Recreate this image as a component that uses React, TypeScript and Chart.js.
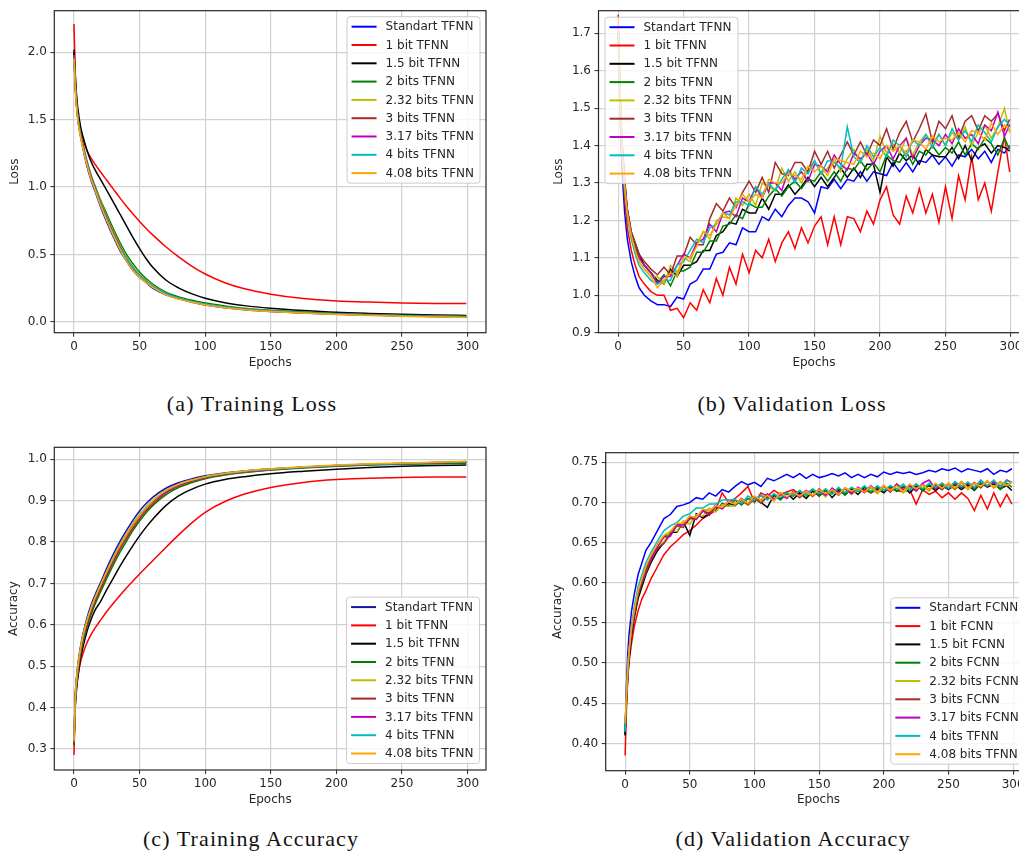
import React, { useEffect, useRef } from 'react';
import { Chart, registerables } from 'chart.js';
Chart.register(...registerables);

// ---------- shared categories / labels ----------
const trainEpochs = [0, 1, 2, 3, 5, 7, 10, 13, 16, 20, 25, 30, 35, 40, 45, 50, 55, 60, 70, 80, 90, 100, 115, 130, 150, 175, 200, 225, 250, 275, 299];
const valEpochs = [0, 1, 2, 3, 5, 7, 10, 13, 16, 20, 25, 30, 35, 40, 45, 50, 55, 60, 65, 70, 75, 80, 85, 90, 95, 100, 105, 110, 115, 120, 125, 130, 135, 140, 145, 150, 155, 160, 165, 170, 175, 180, 185, 190, 195, 200, 205, 210, 215, 220, 225, 230, 235, 240, 245, 250, 255, 260, 265, 270, 275, 280, 285, 290, 295, 299];

const namesTFNN = ['Standart TFNN', '1 bit TFNN', '1.5 bit TFNN', '2 bits TFNN', '2.32 bits TFNN', '3 bits TFNN', '3.17 bits TFNN', '4 bits TFNN', '4.08 bits TFNN'];
const namesValAcc = ['Standart FCNN', '1 bit FCNN', '1.5 bit FCNN', '2 bits FCNN', '2.32 bits FCNN', '3 bits FCNN', '3.17 bits FCNN', '4 bits TFNN', '4.08 bits TFNN'];

const paletteMain = ['#0000ff', '#ff0000', '#000000', '#008000', '#bfbf00', '#a52a2a', '#bf00bf', '#00bfbf', '#ffa500'];
const paletteTrainAcc = ['#1414a8', '#ff0000', '#000000', '#008000', '#bfbf00', '#a52a2a', '#bf00bf', '#00bfbf', '#ffa500'];

const xTickLabels = ['0', '50', '100', '150', '200', '250', '300'];
const yTickLabelsA = ['0.0', '0.5', '1.0', '1.5', '2.0'];
const yTickLabelsB = ['0.9', '1.0', '1.1', '1.2', '1.3', '1.4', '1.5', '1.6', '1.7'];
const yTickLabelsC = ['0.3', '0.4', '0.5', '0.6', '0.7', '0.8', '0.9', '1.0'];
const yTickLabelsD = ['0.40', '0.45', '0.50', '0.55', '0.60', '0.65', '0.70', '0.75'];

// ---------- (a) Training loss ----------
const tlStandart = [2.0, 1.75, 1.6, 1.5, 1.38, 1.28, 1.15, 1.05, 0.97, 0.86, 0.74, 0.63, 0.53, 0.45, 0.38, 0.33, 0.29, 0.25, 0.2, 0.17, 0.145, 0.125, 0.105, 0.09, 0.077, 0.065, 0.056, 0.05, 0.044, 0.04, 0.036];
const tl1bit = [2.21, 1.85, 1.65, 1.53, 1.42, 1.35, 1.27, 1.215, 1.17, 1.115, 1.05, 0.985, 0.92, 0.858, 0.8, 0.745, 0.693, 0.645, 0.557, 0.48, 0.412, 0.355, 0.29, 0.245, 0.205, 0.172, 0.155, 0.146, 0.14, 0.136, 0.135];
const tl15bit = [2.02, 1.82, 1.68, 1.58, 1.45, 1.37, 1.27, 1.19, 1.13, 1.06, 0.975, 0.888, 0.8, 0.712, 0.625, 0.543, 0.468, 0.405, 0.31, 0.25, 0.207, 0.175, 0.142, 0.12, 0.1, 0.083, 0.07, 0.062, 0.056, 0.051, 0.047];
const tl2bit = [1.98, 1.76, 1.62, 1.52, 1.4, 1.31, 1.19, 1.09, 1.01, 0.91, 0.8, 0.69, 0.59, 0.5, 0.43, 0.37, 0.32, 0.28, 0.22, 0.185, 0.16, 0.14, 0.118, 0.1, 0.085, 0.072, 0.062, 0.055, 0.049, 0.045, 0.041];
const tl232bit = [1.97, 1.75, 1.61, 1.51, 1.39, 1.3, 1.18, 1.08, 1.0, 0.9, 0.78, 0.67, 0.57, 0.48, 0.41, 0.35, 0.31, 0.27, 0.21, 0.175, 0.15, 0.13, 0.11, 0.095, 0.08, 0.068, 0.058, 0.051, 0.045, 0.041, 0.037];
const tl3bit = [1.98, 1.76, 1.61, 1.51, 1.39, 1.3, 1.18, 1.08, 1.0, 0.89, 0.77, 0.66, 0.56, 0.47, 0.4, 0.345, 0.3, 0.265, 0.21, 0.175, 0.15, 0.13, 0.11, 0.094, 0.08, 0.067, 0.058, 0.051, 0.045, 0.041, 0.037];
const tl317bit = [1.97, 1.75, 1.6, 1.5, 1.38, 1.29, 1.17, 1.07, 0.99, 0.88, 0.76, 0.65, 0.55, 0.46, 0.39, 0.34, 0.3, 0.26, 0.205, 0.17, 0.148, 0.128, 0.108, 0.093, 0.079, 0.066, 0.057, 0.05, 0.044, 0.04, 0.036];
const tl4bit = [1.96, 1.74, 1.6, 1.5, 1.38, 1.29, 1.17, 1.07, 0.99, 0.88, 0.76, 0.65, 0.55, 0.47, 0.4, 0.345, 0.3, 0.265, 0.21, 0.175, 0.15, 0.13, 0.11, 0.094, 0.08, 0.067, 0.057, 0.05, 0.044, 0.04, 0.035];
const tl408bit = [1.95, 1.73, 1.59, 1.49, 1.37, 1.28, 1.16, 1.06, 0.98, 0.87, 0.75, 0.64, 0.54, 0.45, 0.38, 0.33, 0.29, 0.255, 0.2, 0.168, 0.145, 0.125, 0.105, 0.09, 0.076, 0.063, 0.054, 0.047, 0.041, 0.036, 0.031];

// ---------- (b) Validation loss ----------
const vlStandart = [1.70, 1.55, 1.42, 1.33, 1.22, 1.15, 1.09, 1.05, 1.02, 1.0, 0.985,
  0.975, 0.975, 0.97, 0.995, 0.99, 1.03, 1.04, 1.07, 1.07, 1.11, 1.115,
  1.14, 1.135, 1.18, 1.17, 1.17, 1.21, 1.2, 1.23, 1.21, 1.24, 1.26,
  1.26, 1.25, 1.22, 1.29, 1.285, 1.31, 1.285, 1.31, 1.305, 1.33, 1.305,
  1.33, 1.325, 1.32, 1.355, 1.33, 1.355, 1.33, 1.36, 1.355, 1.375, 1.35,
  1.37, 1.345, 1.375, 1.37, 1.39, 1.365, 1.385, 1.355, 1.39, 1.38, 1.4];
const vl1bit = [1.75, 1.6, 1.47, 1.38, 1.26, 1.18, 1.12, 1.08, 1.05, 1.03, 1.01,
  1.0, 1.0, 0.96, 0.965, 0.94, 0.98, 0.96, 1.015, 0.98, 1.045, 1.0,
  1.075, 1.03, 1.11, 1.06, 1.12, 1.1, 1.15, 1.09, 1.14, 1.17, 1.125,
  1.18, 1.14, 1.185, 1.21, 1.135, 1.21, 1.135, 1.21, 1.205, 1.17, 1.225,
  1.19, 1.255, 1.29, 1.215, 1.19, 1.265, 1.22, 1.285, 1.22, 1.27, 1.195,
  1.29, 1.205, 1.32, 1.255, 1.37, 1.255, 1.3, 1.225, 1.33, 1.425, 1.33];
const vl15bit = [1.72, 1.6, 1.49, 1.41, 1.31, 1.23, 1.17, 1.14, 1.11, 1.08, 1.06,
  1.04, 1.03, 1.07, 1.05, 1.08, 1.08, 1.09, 1.12, 1.12, 1.16, 1.17,
  1.195, 1.19, 1.23, 1.22, 1.22, 1.26, 1.23, 1.27, 1.27, 1.295, 1.27,
  1.29, 1.315, 1.29, 1.315, 1.29, 1.315, 1.34, 1.315, 1.34, 1.315, 1.35,
  1.35, 1.275, 1.37, 1.345, 1.38, 1.36, 1.375, 1.35, 1.39, 1.375, 1.37,
  1.37, 1.395, 1.365, 1.4, 1.36, 1.395, 1.405, 1.38, 1.4, 1.395, 1.385];
const vl2bit = [1.72, 1.6, 1.48, 1.4, 1.3, 1.22, 1.16, 1.13, 1.1, 1.08, 1.06,
  1.035, 1.055, 1.025, 1.065, 1.065, 1.075, 1.115, 1.115, 1.145, 1.145, 1.185,
  1.19, 1.215, 1.205, 1.245, 1.235, 1.235, 1.265, 1.285, 1.265, 1.29, 1.305,
  1.285, 1.31, 1.305, 1.33, 1.305, 1.33, 1.305, 1.34, 1.335, 1.36, 1.335,
  1.355, 1.33, 1.375, 1.36, 1.355, 1.385, 1.35, 1.385, 1.375, 1.4, 1.375,
  1.395, 1.38, 1.41, 1.375, 1.405, 1.39, 1.42, 1.405, 1.375, 1.42, 1.39];
const vl232bit = [1.71, 1.59, 1.47, 1.39, 1.29, 1.22, 1.16, 1.12, 1.09, 1.07, 1.05,
  1.05, 1.03, 1.08, 1.06, 1.1, 1.09, 1.14, 1.17, 1.15, 1.2, 1.21,
  1.205, 1.26, 1.24, 1.27, 1.24, 1.3, 1.29, 1.28, 1.34, 1.305, 1.33,
  1.3, 1.335, 1.36, 1.325, 1.34, 1.365, 1.33, 1.365, 1.39, 1.355, 1.39,
  1.36, 1.425, 1.38, 1.405, 1.38, 1.42, 1.375, 1.41, 1.43, 1.405, 1.43,
  1.4, 1.435, 1.415, 1.45, 1.4, 1.435, 1.455, 1.42, 1.45, 1.5, 1.435];
const vl3bit = [1.72, 1.6, 1.48, 1.4, 1.3, 1.23, 1.17, 1.14, 1.11, 1.09, 1.07,
  1.055, 1.075, 1.055, 1.105, 1.105, 1.155, 1.135, 1.135, 1.205, 1.245, 1.225,
  1.26, 1.235, 1.275, 1.305, 1.275, 1.315, 1.275, 1.355, 1.325, 1.32, 1.355,
  1.355, 1.33, 1.385, 1.35, 1.385, 1.34, 1.375, 1.41, 1.375, 1.41, 1.375,
  1.415, 1.4, 1.445, 1.39, 1.435, 1.465, 1.41, 1.445, 1.485, 1.41, 1.465,
  1.445, 1.48, 1.42, 1.465, 1.48, 1.44, 1.48, 1.465, 1.485, 1.44, 1.47];
const vl317bit = [1.72, 1.59, 1.47, 1.39, 1.29, 1.22, 1.16, 1.12, 1.1, 1.08, 1.06,
  1.03, 1.05, 1.05, 1.08, 1.11, 1.1, 1.14, 1.15, 1.19, 1.17, 1.22,
  1.225, 1.21, 1.26, 1.25, 1.29, 1.26, 1.3, 1.3, 1.28, 1.335, 1.31,
  1.33, 1.305, 1.35, 1.345, 1.33, 1.375, 1.35, 1.335, 1.38, 1.365, 1.38,
  1.35, 1.385, 1.4, 1.365, 1.4, 1.42, 1.365, 1.4, 1.42, 1.415, 1.4,
  1.43, 1.405, 1.445, 1.42, 1.43, 1.405, 1.455, 1.44, 1.49, 1.425, 1.455];
const vl4bit = [1.71, 1.58, 1.46, 1.38, 1.28, 1.21, 1.15, 1.11, 1.08, 1.06, 1.04,
  1.03, 1.04, 1.04, 1.08, 1.09, 1.12, 1.15, 1.14, 1.18, 1.19, 1.22,
  1.215, 1.25, 1.25, 1.24, 1.29, 1.27, 1.3, 1.28, 1.31, 1.335, 1.3,
  1.34, 1.325, 1.36, 1.325, 1.36, 1.355, 1.34, 1.45, 1.37, 1.355, 1.4,
  1.37, 1.395, 1.37, 1.415, 1.4, 1.37, 1.415, 1.4, 1.43, 1.395, 1.43,
  1.4, 1.445, 1.415, 1.44, 1.41, 1.455, 1.435, 1.41, 1.45, 1.47, 1.455];
const vl408bit = [1.72, 1.59, 1.47, 1.39, 1.29, 1.22, 1.16, 1.12, 1.09, 1.07, 1.05,
  1.02, 1.04, 1.06, 1.05, 1.1, 1.1, 1.13, 1.17, 1.16, 1.19, 1.22,
  1.205, 1.24, 1.27, 1.25, 1.27, 1.26, 1.31, 1.3, 1.3, 1.325, 1.32,
  1.31, 1.345, 1.33, 1.345, 1.32, 1.365, 1.36, 1.355, 1.35, 1.385, 1.37,
  1.38, 1.365, 1.4, 1.385, 1.4, 1.38, 1.415, 1.41, 1.39, 1.425, 1.41,
  1.42, 1.415, 1.435, 1.41, 1.44, 1.435, 1.415, 1.46, 1.43, 1.455, 1.445];

// ---------- (c) Training accuracy ----------
const taStandart = [0.32, 0.43, 0.475, 0.505, 0.548, 0.58, 0.618, 0.648, 0.672, 0.7, 0.737, 0.771, 0.801, 0.828, 0.853, 0.875, 0.893, 0.908, 0.93, 0.944, 0.953, 0.96, 0.967, 0.972, 0.977, 0.981, 0.985, 0.988, 0.99, 0.991, 0.993];
const ta1bit = [0.285, 0.41, 0.45, 0.475, 0.51, 0.532, 0.557, 0.576, 0.592, 0.61, 0.632, 0.652, 0.671, 0.689, 0.706, 0.723, 0.739, 0.755, 0.787, 0.818, 0.847, 0.872, 0.898, 0.916, 0.932, 0.944, 0.951, 0.954, 0.956, 0.957, 0.957];
const ta15bit = [0.31, 0.4, 0.445, 0.475, 0.518, 0.548, 0.585, 0.613, 0.635, 0.655, 0.685, 0.713, 0.741, 0.767, 0.792, 0.815, 0.836, 0.855, 0.888, 0.912, 0.928, 0.94, 0.951, 0.958, 0.965, 0.971, 0.976, 0.98, 0.983, 0.985, 0.986];
const ta2bit = [0.31, 0.41, 0.455, 0.485, 0.528, 0.559, 0.595, 0.624, 0.649, 0.678, 0.712, 0.745, 0.775, 0.802, 0.828, 0.851, 0.871, 0.888, 0.914, 0.932, 0.944, 0.953, 0.962, 0.968, 0.974, 0.979, 0.983, 0.986, 0.988, 0.989, 0.99];
const ta232bit = [0.315, 0.42, 0.465, 0.495, 0.538, 0.569, 0.605, 0.634, 0.659, 0.688, 0.723, 0.756, 0.786, 0.813, 0.838, 0.86, 0.879, 0.895, 0.92, 0.937, 0.948, 0.956, 0.964, 0.97, 0.976, 0.981, 0.985, 0.988, 0.99, 0.992, 0.994];
const ta3bit = [0.315, 0.415, 0.46, 0.49, 0.534, 0.565, 0.601, 0.63, 0.655, 0.684, 0.719, 0.752, 0.782, 0.809, 0.834, 0.856, 0.876, 0.892, 0.918, 0.935, 0.947, 0.955, 0.963, 0.969, 0.975, 0.98, 0.984, 0.987, 0.989, 0.991, 0.993];
const ta317bit = [0.32, 0.425, 0.47, 0.5, 0.543, 0.574, 0.61, 0.639, 0.664, 0.693, 0.728, 0.761, 0.791, 0.818, 0.843, 0.864, 0.883, 0.898, 0.922, 0.939, 0.949, 0.957, 0.965, 0.971, 0.976, 0.981, 0.985, 0.988, 0.99, 0.992, 0.994];
const ta4bit = [0.32, 0.425, 0.472, 0.502, 0.545, 0.576, 0.612, 0.641, 0.666, 0.695, 0.73, 0.763, 0.793, 0.82, 0.845, 0.866, 0.885, 0.9, 0.924, 0.94, 0.95, 0.958, 0.965, 0.971, 0.976, 0.981, 0.985, 0.988, 0.99, 0.992, 0.994];
const ta408bit = [0.32, 0.425, 0.47, 0.5, 0.543, 0.575, 0.611, 0.64, 0.665, 0.694, 0.729, 0.762, 0.792, 0.819, 0.844, 0.865, 0.884, 0.9, 0.924, 0.94, 0.95, 0.958, 0.966, 0.972, 0.977, 0.982, 0.986, 0.989, 0.991, 0.993, 0.995];

// ---------- (d) Validation accuracy ----------
const vaStandart = [0.41, 0.47, 0.51, 0.535, 0.565, 0.585, 0.61, 0.625, 0.64, 0.65, 0.665,
  0.68, 0.685, 0.695, 0.697, 0.7, 0.706, 0.704, 0.712, 0.708, 0.716, 0.713,
  0.72, 0.726, 0.722, 0.725, 0.72, 0.73, 0.727, 0.731, 0.735, 0.731, 0.736,
  0.73, 0.735, 0.731, 0.733, 0.736, 0.733, 0.737, 0.731, 0.735, 0.731, 0.735,
  0.732, 0.738, 0.735, 0.738, 0.736, 0.738, 0.735, 0.737, 0.74, 0.738, 0.742,
  0.74, 0.743, 0.738, 0.742, 0.74, 0.738, 0.742, 0.735, 0.74, 0.738, 0.742];
const va1bit = [0.385, 0.44, 0.48, 0.5, 0.525, 0.545, 0.565, 0.58, 0.59, 0.605, 0.62,
  0.635, 0.645, 0.652, 0.66, 0.665, 0.672, 0.68, 0.685, 0.69, 0.712, 0.7,
  0.705, 0.712, 0.72, 0.7, 0.712, 0.708, 0.715, 0.71, 0.713, 0.716, 0.71,
  0.712, 0.716, 0.71, 0.714, 0.712, 0.716, 0.712, 0.718, 0.714, 0.716, 0.712,
  0.716, 0.714, 0.717, 0.715, 0.713, 0.716, 0.698, 0.716, 0.71, 0.714, 0.706,
  0.712, 0.704, 0.712, 0.705, 0.69, 0.709, 0.692, 0.712, 0.695, 0.71, 0.698];
const va15bit = [0.41, 0.45, 0.48, 0.505, 0.535, 0.555, 0.58, 0.595, 0.61, 0.625, 0.64,
  0.65, 0.663, 0.663, 0.676, 0.659, 0.686, 0.681, 0.686, 0.695, 0.693, 0.699,
  0.696, 0.703, 0.697, 0.705, 0.7, 0.694, 0.709, 0.704, 0.712, 0.704, 0.712,
  0.705, 0.714, 0.708, 0.716, 0.706, 0.715, 0.71, 0.717, 0.71, 0.719, 0.713,
  0.717, 0.712, 0.72, 0.714, 0.72, 0.712, 0.72, 0.716, 0.721, 0.715, 0.721,
  0.716, 0.722, 0.716, 0.722, 0.715, 0.724, 0.719, 0.723, 0.717, 0.721, 0.715];
const va2bit = [0.415, 0.455, 0.485, 0.51, 0.54, 0.56, 0.585, 0.6, 0.615, 0.63, 0.645,
  0.658, 0.661, 0.673, 0.673, 0.682, 0.68, 0.691, 0.69, 0.689, 0.699, 0.696,
  0.703, 0.697, 0.705, 0.701, 0.709, 0.704, 0.71, 0.703, 0.711, 0.708, 0.715,
  0.708, 0.716, 0.708, 0.715, 0.711, 0.718, 0.709, 0.718, 0.714, 0.72, 0.712,
  0.719, 0.714, 0.721, 0.714, 0.72, 0.716, 0.723, 0.714, 0.722, 0.718, 0.722,
  0.716, 0.723, 0.718, 0.725, 0.716, 0.724, 0.72, 0.725, 0.716, 0.724, 0.719];
const va232bit = [0.42, 0.46, 0.49, 0.515, 0.545, 0.565, 0.59, 0.605, 0.62, 0.632, 0.645,
  0.651, 0.665, 0.664, 0.677, 0.673, 0.685, 0.683, 0.693, 0.688, 0.697, 0.695,
  0.696, 0.704, 0.697, 0.706, 0.701, 0.709, 0.702, 0.71, 0.706, 0.714, 0.707,
  0.713, 0.707, 0.715, 0.707, 0.715, 0.71, 0.717, 0.71, 0.716, 0.713, 0.718,
  0.711, 0.719, 0.713, 0.721, 0.712, 0.719, 0.716, 0.721, 0.714, 0.723, 0.718,
  0.722, 0.716, 0.724, 0.716, 0.723, 0.719, 0.726, 0.718, 0.723, 0.721, 0.726];
const va3bit = [0.415, 0.455, 0.485, 0.51, 0.54, 0.56, 0.585, 0.6, 0.612, 0.628, 0.643,
  0.649, 0.66, 0.671, 0.669, 0.68, 0.679, 0.69, 0.684, 0.695, 0.693, 0.702,
  0.697, 0.703, 0.698, 0.707, 0.699, 0.707, 0.703, 0.712, 0.706, 0.712, 0.706,
  0.714, 0.708, 0.717, 0.71, 0.715, 0.709, 0.718, 0.713, 0.718, 0.712, 0.72,
  0.713, 0.721, 0.713, 0.723, 0.716, 0.721, 0.714, 0.723, 0.716, 0.722, 0.716,
  0.724, 0.717, 0.726, 0.719, 0.725, 0.718, 0.727, 0.719, 0.726, 0.721, 0.726];
const va317bit = [0.42, 0.46, 0.49, 0.515, 0.545, 0.565, 0.59, 0.603, 0.618, 0.63, 0.645,
  0.657, 0.658, 0.672, 0.672, 0.683, 0.679, 0.689, 0.687, 0.697, 0.692, 0.701,
  0.698, 0.705, 0.699, 0.707, 0.703, 0.711, 0.704, 0.71, 0.705, 0.714, 0.709,
  0.715, 0.709, 0.714, 0.709, 0.718, 0.712, 0.717, 0.711, 0.719, 0.714, 0.721,
  0.714, 0.721, 0.714, 0.723, 0.716, 0.721, 0.715, 0.724, 0.728, 0.717, 0.724,
  0.717, 0.725, 0.719, 0.725, 0.718, 0.728, 0.72, 0.726, 0.719, 0.728, 0.725];
const va4bit = [0.415, 0.46, 0.49, 0.515, 0.545, 0.57, 0.595, 0.61, 0.625, 0.638, 0.652,
  0.665, 0.671, 0.675, 0.683, 0.686, 0.693, 0.693, 0.698, 0.698, 0.703, 0.703,
  0.704, 0.699, 0.708, 0.703, 0.709, 0.703, 0.711, 0.706, 0.712, 0.709, 0.715,
  0.709, 0.717, 0.711, 0.717, 0.71, 0.719, 0.712, 0.719, 0.714, 0.721, 0.714,
  0.721, 0.715, 0.721, 0.717, 0.723, 0.715, 0.723, 0.717, 0.724, 0.719, 0.724,
  0.718, 0.726, 0.72, 0.725, 0.719, 0.727, 0.721, 0.728, 0.72, 0.727, 0.725];
const va408bit = [0.425, 0.46, 0.49, 0.515, 0.545, 0.565, 0.59, 0.605, 0.62, 0.635, 0.648,
  0.659, 0.664, 0.674, 0.674, 0.683, 0.681, 0.692, 0.689, 0.696, 0.694, 0.701,
  0.698, 0.704, 0.699, 0.708, 0.703, 0.709, 0.702, 0.712, 0.707, 0.713, 0.708,
  0.714, 0.709, 0.716, 0.711, 0.716, 0.71, 0.718, 0.714, 0.718, 0.713, 0.72,
  0.713, 0.721, 0.715, 0.721, 0.714, 0.723, 0.717, 0.722, 0.716, 0.724, 0.718,
  0.724, 0.718, 0.726, 0.718, 0.724, 0.72, 0.727, 0.719, 0.726, 0.721, 0.726];

// ---------- styling helpers ----------
const FONT = '"DejaVu Sans", sans-serif';
const FONT_SIZE = 12;
const LH = FONT_SIZE * 1.2;
const TEXT_COLOR = '#262626';
const GRID_COLOR = '#d2d2d2';

const frameLegendPlugin = {
  id: 'frameLegend',
  afterDatasetsDraw(chart: any) {
    const { ctx, chartArea: a } = chart;
    ctx.save();
    ctx.strokeStyle = '#262626';
    ctx.lineWidth = 1.2;
    ctx.strokeRect(a.left, a.top, a.right - a.left, a.bottom - a.top);
    ctx.restore();
  },
  afterDraw(chart: any, _args: any, opts: any) {
    if (!opts || !opts.names) return;
    const { ctx, chartArea: a } = chart;
    const names: string[] = opts.names;
    const colors: string[] = opts.colors;
    ctx.save();
    ctx.font = `${FONT_SIZE}px ${FONT}`;
    let tw = 0;
    names.forEach((n) => { tw = Math.max(tw, ctx.measureText(n).width); });
    const w = 38.5 + tw + 6;
    const rowH = 18.3;
    const h = 20 + rowH * (names.length - 1);
    const inset = opts.inset;
    const x = opts.corner.indexOf('right') >= 0 ? a.right - inset - w : a.left + inset;
    const y = opts.corner.indexOf('bottom') >= 0 ? a.bottom - inset - h : a.top + inset;
    ctx.beginPath();
    (ctx as any).roundRect(x, y, w, h, 3);
    ctx.fillStyle = 'rgba(255,255,255,0.8)';
    ctx.fill();
    ctx.strokeStyle = '#cccccc';
    ctx.lineWidth = 1;
    ctx.stroke();
    names.forEach((n, i) => {
      const cy = y + 10 + i * rowH;
      ctx.beginPath();
      ctx.moveTo(x + 4.5, cy);
      ctx.lineTo(x + 29.5, cy);
      ctx.strokeStyle = colors[i];
      ctx.lineWidth = 2;
      ctx.stroke();
      ctx.fillStyle = TEXT_COLOR;
      ctx.textBaseline = 'middle';
      ctx.textAlign = 'left';
      ctx.fillText(n, x + 38.5, cy + 0.5);
    });
    ctx.restore();
  },
};

type PanelCfg = {
  cx: number; cy: number; W: number; H: number;
  frame: { l: number; t: number; r: number; b: number };
  xTitleY: number; yTitleX: number;
  xMin: number; xMax: number; yMin: number; yMax: number;
  yTicks: string[]; yTitle: string;
  epochs: number[]; series: number[][]; names: string[]; colors: string[];
  smooth: boolean; legendCorner: string; legendInset: number;
};

function buildConfig(c: PanelCfg): any {
  const fL = c.frame.l - c.cx;
  const fT = c.frame.t - c.cy;
  const fR = c.frame.r - c.cx;
  const fB = c.frame.b - c.cy;
  const xTickVals = xTickLabels.map((s) => parseFloat(s));
  const yTickVals = c.yTicks.map((s) => parseFloat(s));
  const tickFont = { family: FONT, size: FONT_SIZE };
  return {
    type: 'line',
    data: {
      datasets: c.series.map((s, i) => ({
        label: c.names[i],
        data: s.map((v, j) => ({ x: c.epochs[j], y: v })),
        borderColor: c.colors[i],
        backgroundColor: c.colors[i],
        borderWidth: 1.5,
        pointRadius: 0,
        tension: 0,
        cubicInterpolationMode: c.smooth ? 'monotone' : 'default',
        fill: false,
        order: c.series.length - i,
      })),
    },
    options: {
      responsive: false,
      animation: false,
      events: [],
      layout: { padding: { left: 0, top: fT, right: c.W - fR, bottom: 0 } },
      plugins: {
        legend: { display: false },
        tooltip: { enabled: false },
        frameLegend: { names: c.names, colors: c.colors, corner: c.legendCorner, inset: c.legendInset },
      },
      scales: {
        x: {
          type: 'linear',
          bounds: 'data',
          min: c.xMin,
          max: c.xMax,
          afterBuildTicks: (s: any) => { s.ticks = xTickVals.map((v) => ({ value: v })); },
          afterFit: (s: any) => { s.height = c.H - fB; },
          ticks: {
            autoSkip: false, maxRotation: 0, padding: 3,
            font: tickFont, color: TEXT_COLOR,
            callback: (_v: any, i: number) => xTickLabels[i],
          },
          grid: { color: GRID_COLOR, lineWidth: 1.2, drawTicks: true, tickLength: 4, tickColor: '#262626', tickWidth: 1 },
          border: { display: false },
          title: {
            display: true, text: 'Epochs', font: tickFont, color: TEXT_COLOR,
            padding: { top: 0, bottom: c.H - (c.xTitleY - c.cy) - LH / 2 },
          },
        },
        y: {
          type: 'linear',
          bounds: 'data',
          min: c.yMin,
          max: c.yMax,
          afterBuildTicks: (s: any) => { s.ticks = yTickVals.map((v) => ({ value: v })); },
          afterFit: (s: any) => { s.width = fL; },
          ticks: {
            autoSkip: false, padding: 3.5,
            font: tickFont, color: TEXT_COLOR,
            callback: (_v: any, i: number) => c.yTicks[i],
          },
          grid: { color: GRID_COLOR, lineWidth: 1.2, drawTicks: true, tickLength: 4, tickColor: '#262626', tickWidth: 1 },
          border: { display: false },
          title: {
            display: true, text: c.yTitle, font: tickFont, color: TEXT_COLOR,
            padding: { top: (c.yTitleX - c.cx) - LH / 2, bottom: 0 },
          },
        },
      },
    },
    plugins: [frameLegendPlugin],
  };
}

const panels: PanelCfg[] = [
  {
    cx: 0, cy: 0, W: 500, H: 380,
    frame: { l: 54.3, t: 10, r: 486, b: 332.7 }, xTitleY: 362.7, yTitleX: 15,
    xMin: -15, xMax: 314, yMin: -0.081, yMax: 2.309,
    yTicks: yTickLabelsA, yTitle: 'Loss', epochs: trainEpochs,
    series: [tlStandart, tl1bit, tl15bit, tl2bit, tl232bit, tl3bit, tl317bit, tl4bit, tl408bit],
    names: namesTFNN, colors: paletteMain, smooth: true, legendCorner: 'top-right', legendInset: 6,
  },
  {
    cx: 540, cy: 0, W: 500, H: 380,
    frame: { l: 598.5, t: 10, r: 1029.3, b: 332.7 }, xTitleY: 362.7, yTitleX: 559.3,
    xMin: -15, xMax: 314, yMin: 0.9, yMax: 1.7606,
    yTicks: yTickLabelsB, yTitle: 'Loss', epochs: valEpochs,
    series: [vlStandart, vl1bit, vl15bit, vl2bit, vl232bit, vl3bit, vl317bit, vl4bit, vl408bit],
    names: namesTFNN, colors: paletteMain, smooth: false, legendCorner: 'top-left', legendInset: 6.5,
  },
  {
    cx: 0, cy: 430, W: 500, H: 380,
    frame: { l: 54.3, t: 447.3, r: 486, b: 770 }, xTitleY: 800, yTitleX: 14,
    xMin: -15, xMax: 314, yMin: 0.249, yMax: 1.029,
    yTicks: yTickLabelsC, yTitle: 'Accuracy', epochs: trainEpochs,
    series: [taStandart, ta1bit, ta15bit, ta2bit, ta232bit, ta3bit, ta317bit, ta4bit, ta408bit],
    names: namesTFNN, colors: paletteTrainAcc, smooth: true, legendCorner: 'bottom-right', legendInset: 6.5,
  },
  {
    cx: 540, cy: 430, W: 500, H: 380,
    frame: { l: 605.7, t: 452.7, r: 1031.3, b: 770.7 }, xTitleY: 800, yTitleX: 558.3,
    xMin: -15, xMax: 314, yMin: 0.366, yMax: 0.762,
    yTicks: yTickLabelsD, yTitle: 'Accuracy', epochs: valEpochs,
    series: [vaStandart, va1bit, va15bit, va2bit, va232bit, va3bit, va317bit, va4bit, va408bit],
    names: namesValAcc, colors: paletteMain, smooth: false, legendCorner: 'bottom-right', legendInset: 6.5,
  },
];

const captions = [
  { text: '(a) Training Loss', cx: 252, top: 393 },
  { text: '(b) Validation Loss', cx: 792, top: 393 },
  { text: '(c) Training Accuracy', cx: 251, top: 828 },
  { text: '(d) Validation Accuracy', cx: 793, top: 828 },
];

function Panel({ cfg }: { cfg: PanelCfg }) {
  const ref = useRef<HTMLCanvasElement>(null);
  useEffect(() => {
    const chart = new Chart(ref.current as HTMLCanvasElement, buildConfig(cfg));
    return () => chart.destroy();
  }, [cfg]);
  return (
    <canvas
      ref={ref}
      width={cfg.W}
      height={cfg.H}
      style={{ position: 'absolute', left: cfg.cx, top: cfg.cy, width: cfg.W, height: cfg.H }}
    />
  );
}

export default function App() {
  return (
    <div style={{ position: 'absolute', left: 0, top: 0, width: 1019, height: 854, overflow: 'hidden', background: '#ffffff' }}>
      {panels.map((p, i) => <Panel key={i} cfg={p} />)}
      {captions.map((c, i) => (
        <div
          key={'c' + i}
          style={{
            position: 'absolute', left: c.cx - 200, top: c.top, width: 400, textAlign: 'center',
            fontFamily: '"Liberation Serif", serif', fontSize: 22, lineHeight: '22px',
            letterSpacing: '1.1px', color: '#111', whiteSpace: 'nowrap',
          }}
        >
          {c.text}
        </div>
      ))}
    </div>
  );
}
